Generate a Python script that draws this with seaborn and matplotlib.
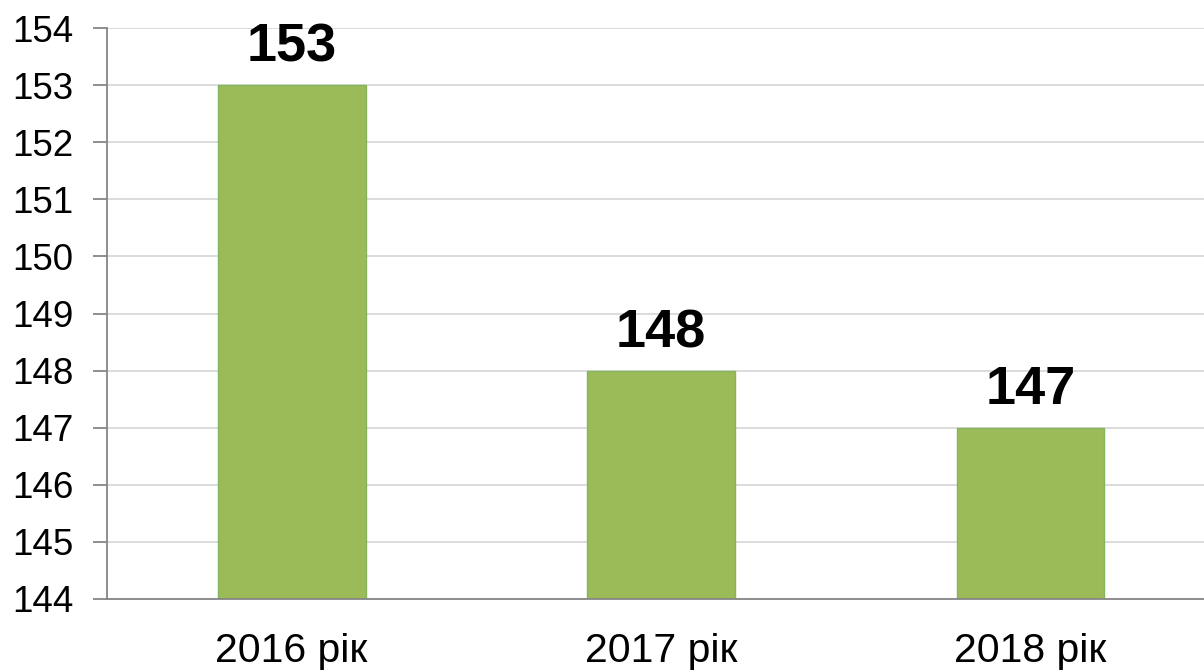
import matplotlib
matplotlib.use("Agg")
import matplotlib.pyplot as plt
import seaborn as sns
import pandas as pd
import numpy as np

categories = ["2016 рік", "2017 рік", "2018 рік"]
values = [153, 148, 147]
y_ticks = list(range(144, 155))

sns.set_theme(style="white")
plt.rcParams['font.family'] = ['Liberation Sans', 'DejaVu Sans']

df = pd.DataFrame({"year": categories, "value": values})

fig = plt.figure(figsize=(12.04, 6.72), dpi=100)
ax = fig.add_axes([107/1204, 1 - 599/672, 1 - 107/1204, (599 - 28)/672])

for y in y_ticks:
    ax.axhline(y, color="#D9D9D9", lw=1.3, zorder=0)

sns.barplot(data=df, x="year", y="value", ax=ax, width=0.4,
            color="#9BBB59", saturation=1, edgecolor="#86B35F", linewidth=1,
            zorder=2)

ax.set_ylim(144, 154)
ax.set_xlim(-0.5, 2.47)
ax.set_yticks(y_ticks)
ax.set_yticklabels([str(v) for v in y_ticks])
ax.set_xlabel("")
ax.set_ylabel("")

ax.set_xticks(range(len(categories)))
ax.set_xticklabels(categories)
ax.set_xticks(np.arange(len(categories)) - 0.5, minor=True)
ax.tick_params(axis="x", which="major", length=0, pad=24, labelsize=29.5, colors="black")
ax.tick_params(axis="x", which="minor", length=10, width=1.3, color="#868686", direction="out")
ax.tick_params(axis="y", which="major", length=10, width=1.3, color="#868686",
               direction="out", pad=14, labelsize=26.5, labelcolor="black", left=True)

for s in ["top", "right"]:
    ax.spines[s].set_visible(False)
for s in ["left", "bottom"]:
    ax.spines[s].set_color("#868686")
    ax.spines[s].set_linewidth(1.3)
    ax.spines[s].set_zorder(3)

ax.bar_label(ax.containers[0], labels=[str(v) for v in values], padding=9,
             fontsize=39, fontweight="bold", color="black")

fig.savefig("out.png", dpi=100)
